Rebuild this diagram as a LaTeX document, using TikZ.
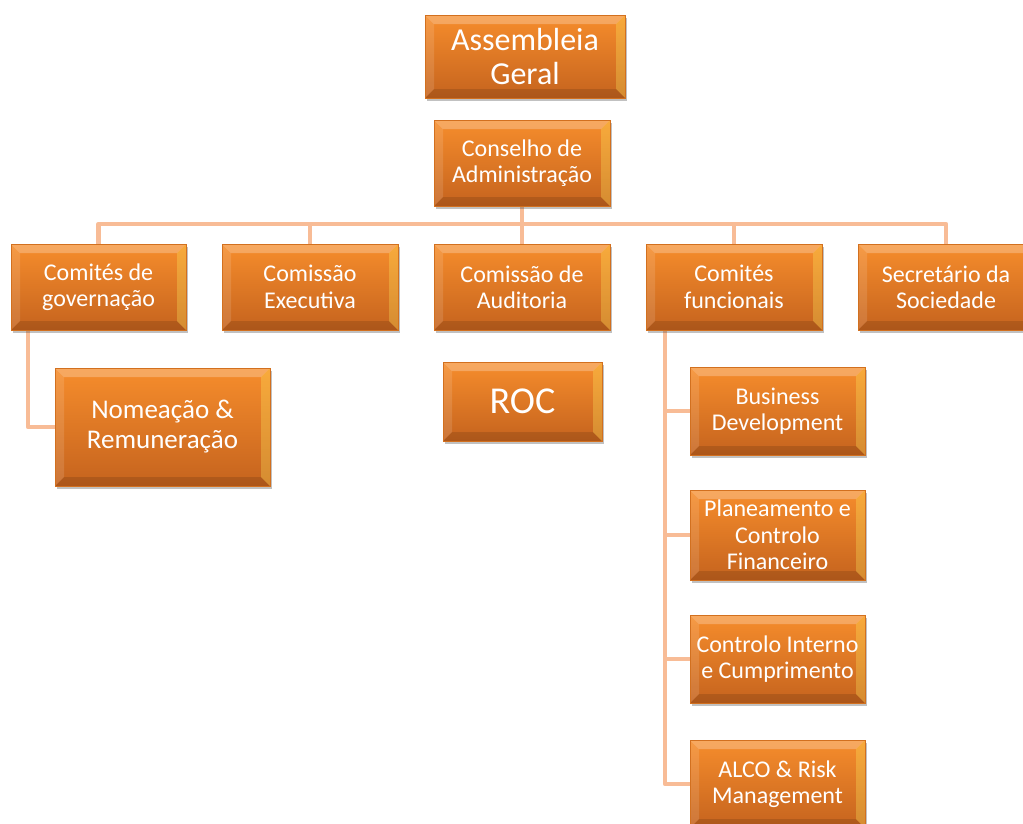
\documentclass[tikz,border=0pt]{standalone}
\usepackage{fontspec}
\setmainfont{Carlito}
\usetikzlibrary{shadows,backgrounds,calc}
\definecolor{otop}{HTML}{F68D2C}
\definecolor{obot}{HTML}{C5631E}
\definecolor{oline}{HTML}{F8BC96}
\definecolor{oedge}{HTML}{D2701F}
\tikzset{
  bevel/.style={path picture={
    \fill[white,opacity=0.25] (path picture bounding box.north west) -- (path picture bounding box.north east)
       -- ([shift={(-9pt,-9pt)}]path picture bounding box.north east) -- ([shift={(9pt,-9pt)}]path picture bounding box.north west) -- cycle;
    \fill[white,opacity=0.12] (path picture bounding box.north west) -- ([shift={(9pt,-9pt)}]path picture bounding box.north west)
       -- ([shift={(9pt,9pt)}]path picture bounding box.south west) -- (path picture bounding box.south west) -- cycle;
    \fill[yellow!60!white,opacity=0.28] (path picture bounding box.north east) -- (path picture bounding box.south east)
       -- ([shift={(-9pt,9pt)}]path picture bounding box.south east) -- ([shift={(-9pt,-9pt)}]path picture bounding box.north east) -- cycle;
    \fill[black,opacity=0.12] (path picture bounding box.south west) -- (path picture bounding box.south east)
       -- ([shift={(-9pt,9pt)}]path picture bounding box.south east) -- ([shift={(9pt,9pt)}]path picture bounding box.south west) -- cycle;
  }},
  obox/.style={rectangle, inner sep=2pt, outer sep=0pt, align=center, text=white,
    top color=otop, bottom color=obot, draw=oedge, line width=0.6pt, bevel,
    drop shadow={shadow xshift=2pt, shadow yshift=-3pt, opacity=0.35, fill=black!70},
    font=\fontsize{24}{26.5}\selectfont},
  conn/.style={draw=oline, line width=4.5pt}
}
\begin{document}
\begin{tikzpicture}[x=1pt,y=-1pt]
\useasboundingbox (0,0) rectangle (1023,823);
\clip (0,0) rectangle (1023,823);
% nodes
\node[obox, minimum width=200pt, minimum height=83pt, font=\fontsize{32}{34}\selectfont] (AG) at (525,56.5) {Assembleia\\Geral};
\node[obox, minimum width=176pt, minimum height=86pt] (CA) at (522,163) {Conselho de\\Administração};
\node[obox, minimum width=175pt, minimum height=86pt] (G) at (98.5,287) {Comités de\\governação};
\node[obox, minimum width=176pt, minimum height=86pt] (E) at (310,287) {Comissão\\Executiva};
\node[obox, minimum width=176pt, minimum height=86pt] (A) at (522,287) {Comissão de\\Auditoria};
\node[obox, minimum width=176pt, minimum height=86pt] (F) at (734,287) {Comités\\funcionais};
\node[obox, minimum width=176pt, minimum height=86pt] (S) at (946,287) {Secretário da\\Sociedade};
\node[obox, minimum width=215pt, minimum height=118pt, font=\fontsize{27}{30}\selectfont] (N) at (162.5,427) {Nomeação \&\\Remuneração};
\node[obox, minimum width=159pt, minimum height=79pt, font=\fontsize{38}{40}\selectfont] (ROC) at (522.5,401.5) {ROC};
\node[obox, minimum width=175pt, minimum height=88pt] (BD) at (777.5,411) {Business\\Development};
\node[obox, minimum width=175pt, minimum height=90pt] (PCF) at (777.5,535) {Planeamento e\\Controlo\\Financeiro};
\node[obox, minimum width=175pt, minimum height=88pt] (CIC) at (777.5,659) {Controlo Interno\\e Cumprimento};
\node[obox, minimum width=175pt, minimum height=88pt] (AL) at (777.5,784) {ALCO \& Risk\\Management};
% connectors
\coordinate (bus) at (0,224);
\coordinate (tg) at (28,0);
\coordinate (tf) at (665,0);
\begin{scope}[on background layer]
\draw[conn] (CA.south) -- (CA.south |- bus);
\draw[conn, line join=round] (G.north) -- (G.north |- bus) -- (S.north |- bus) -- (S.north);
\draw[conn] (E.north) -- (E.north |- bus);
\draw[conn] (A.north) -- (A.north |- bus);
\draw[conn] (F.north) -- (F.north |- bus);
\draw[conn, line join=round] (tg |- G.south) -- (tg |- N.west) -- (N.west);
\draw[conn, line join=round] (tf |- F.south) -- (tf |- AL.west) -- (AL.west);
\draw[conn] (tf |- BD.west) -- (BD.west);
\draw[conn] (tf |- PCF.west) -- (PCF.west);
\draw[conn] (tf |- CIC.west) -- (CIC.west);
\end{scope}
\end{tikzpicture}
\end{document}
